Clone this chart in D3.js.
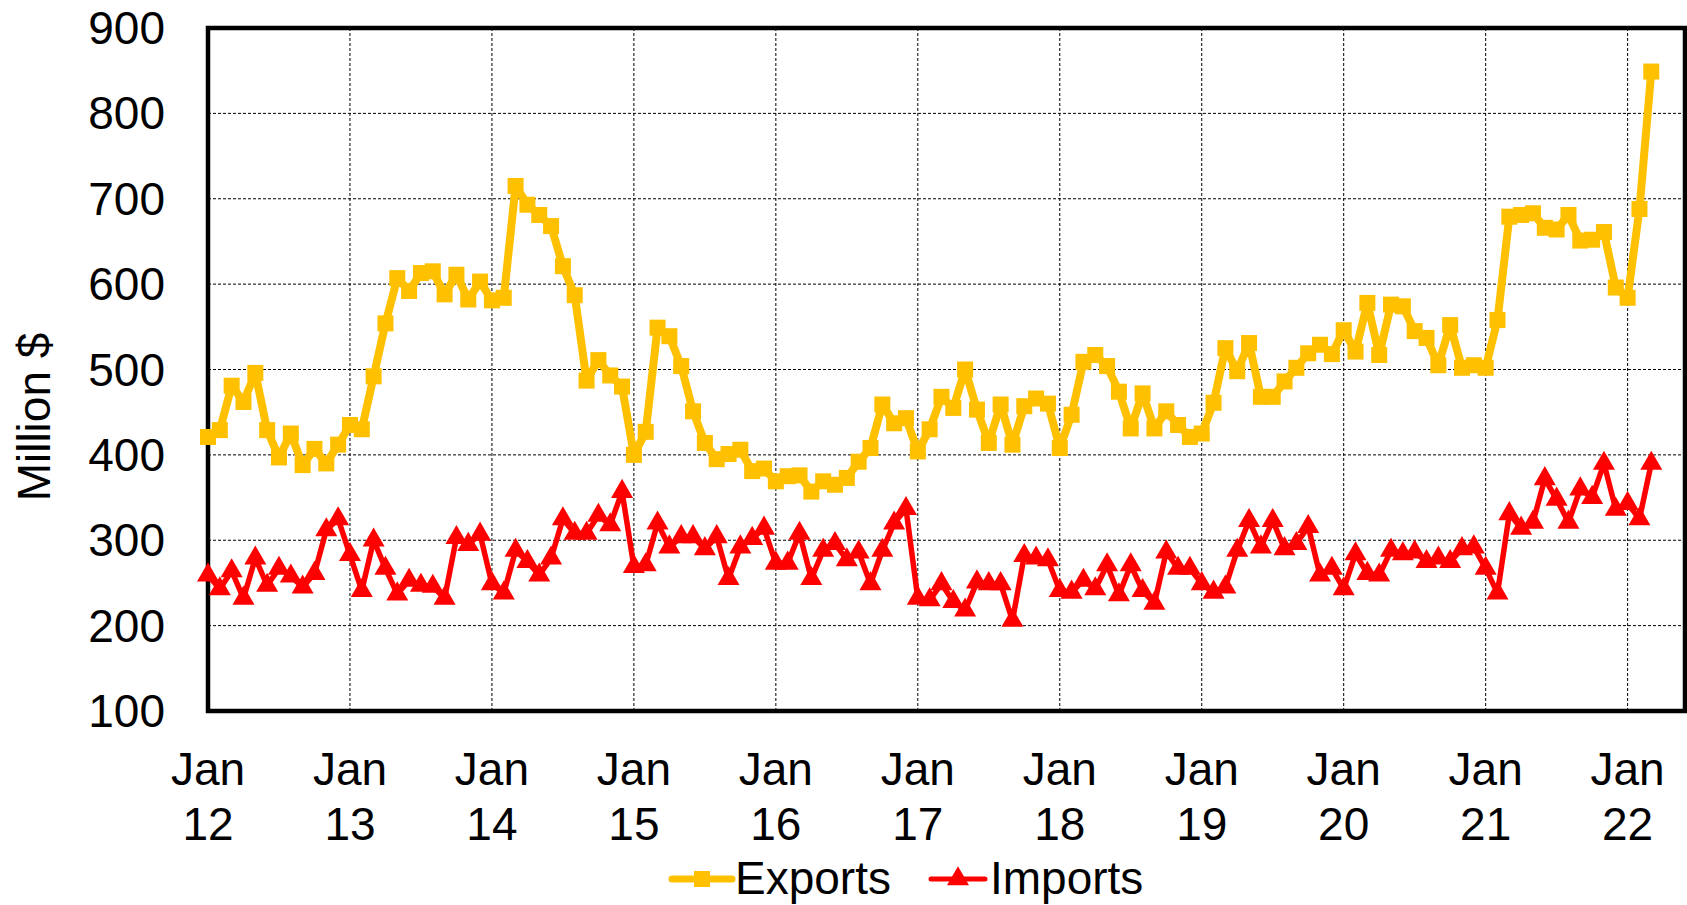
<!DOCTYPE html>
<html>
<head>
<meta charset="utf-8">
<script src="https://cdn.jsdelivr.net/npm/d3@7"></script>
<style>
  html, body { margin: 0; padding: 0; background: #fff; }
  svg { display: block; }
  text { font-family: Arial, "Liberation Sans", sans-serif; fill: #000; }
</style>
</head>
<body>
<svg id="chart" width="1687" height="905"></svg>
<script>
// ---- data (monthly, Jan 2012 .. Mar 2022) ----
const seriesNames = ["Exports", "Imports"];
const seriesColors = ["#FFC000", "#FF0000"];
const yearLabels = ["12","13","14","15","16","17","18","19","20","21","22"];
const yTicks = [100, 200, 300, 400, 500, 600, 700, 800, 900];

const exportsData = [
  421, 429, 481, 462, 496, 429, 397, 425, 388, 407, 390, 412,
  435, 430, 492, 554, 607, 592, 613, 615, 588, 611, 582, 603,
  581, 584, 715, 693, 681, 668, 621, 587, 487, 511, 493, 480,
  400, 427, 549, 539, 504, 451, 414, 395, 401, 406, 381, 384,
  369, 375, 376, 357, 369, 365, 373, 392, 408, 459, 437, 443,
  404, 430, 468, 455, 500, 453, 414, 459, 412, 457, 466, 460,
  408, 447, 509, 517, 504, 474, 431, 472, 431, 451, 435, 421,
  425, 461, 525, 498, 531, 468, 468, 486, 502, 519, 529, 518,
  546, 521, 578, 517, 576, 574, 545, 537, 505, 552, 502, 505,
  502, 558, 679, 681, 683, 666, 664, 681, 651, 652, 661, 596,
  584, 688, 849
];
const importsData = [
  259, 243, 264, 232, 279, 247, 267, 258, 245, 261, 312, 325,
  283, 241, 300, 267, 237, 253, 247, 246, 232, 303, 295, 307,
  249, 238, 288, 275, 259, 279, 325, 308, 308, 329, 318, 357,
  269, 271, 320, 292, 304, 304, 290, 304, 255, 292, 302, 314,
  273, 273, 308, 255, 288, 296, 277, 286, 249, 288, 320, 337,
  232, 230, 249, 228, 218, 251, 249, 249, 206, 282, 279, 277,
  241, 239, 253, 243, 271, 236, 271, 241, 226, 286, 267, 267,
  249, 239, 245, 288, 323, 292, 323, 290, 296, 316, 259, 267,
  243, 284, 261, 259, 288, 284, 286, 275, 279, 275, 290, 292,
  267, 238, 331, 314, 321, 372, 348, 321, 360, 350, 390, 336,
  343, 325, 390
];

// ---- layout ----
const plot = { left: 208, top: 28, right: 1685, bottom: 711 };

const svg = d3.select("#chart");

const x = d3.scaleLinear().domain([0, 124.85]).range([plot.left, plot.right]);
const y = d3.scaleLinear().domain([100, 900]).range([plot.bottom, plot.top]);

// gridlines
const grid = svg.append("g");
grid.selectAll("line.h").data(yTicks.slice(1)).enter().append("line")
  .attr("x1", plot.left).attr("x2", plot.right)
  .attr("y1", d => y(d)).attr("y2", d => y(d))
  .attr("stroke", "#000").attr("stroke-width", 1).attr("stroke-dasharray", "3,2");
grid.selectAll("line.v").data(yearLabels.slice(1)).enter().append("line")
  .attr("x1", (d, i) => x((i + 1) * 12)).attr("x2", (d, i) => x((i + 1) * 12))
  .attr("y1", plot.top).attr("y2", plot.bottom)
  .attr("stroke", "#000").attr("stroke-width", 1).attr("stroke-dasharray", "3,2");

// frame
svg.append("rect")
  .attr("x", plot.left).attr("y", plot.top)
  .attr("width", plot.right - plot.left).attr("height", plot.bottom - plot.top)
  .attr("fill", "none").attr("stroke", "#000").attr("stroke-width", 4.5);

// y tick labels
svg.append("g").selectAll("text").data(yTicks).enter().append("text")
  .attr("x", 165).attr("y", d => y(d)).attr("dy", "0.35em")
  .attr("text-anchor", "end").attr("font-size", 46)
  .text(d => d);

// x tick labels
const xl = svg.append("g").selectAll("text").data(yearLabels).enter().append("text")
  .attr("text-anchor", "middle").attr("font-size", 46);
xl.append("tspan").attr("x", (d, i) => x(i * 12)).attr("y", 785).text("Jan");
xl.append("tspan").attr("x", (d, i) => x(i * 12)).attr("y", 840).text(d => d);

// y axis title
svg.append("text")
  .attr("transform", "translate(50,417) rotate(-90)")
  .attr("text-anchor", "middle").attr("font-size", 46)
  .text("Million $");

// series
const line = d3.line().x((d, i) => x(i)).y(d => y(d));

// exports
svg.append("path").datum(exportsData)
  .attr("d", line).attr("fill", "none")
  .attr("stroke", seriesColors[0]).attr("stroke-width", 8).attr("stroke-linejoin", "round");
const sq = 16;
svg.append("g").selectAll("rect").data(exportsData).enter().append("rect")
  .attr("x", (d, i) => x(i) - sq / 2).attr("y", d => y(d) - sq / 2)
  .attr("width", sq).attr("height", sq).attr("fill", seriesColors[0]);

// imports
svg.append("path").datum(importsData)
  .attr("d", line).attr("fill", "none")
  .attr("stroke", seriesColors[1]).attr("stroke-width", 5.5).attr("stroke-linejoin", "round");
const tri = d3.symbol().type(d3.symbolTriangle).size(210);
svg.append("g").selectAll("path").data(importsData).enter().append("path")
  .attr("d", tri)
  .attr("transform", (d, i) => `translate(${x(i)},${y(d)})`)
  .attr("fill", seriesColors[1]);

// legend
const lg = svg.append("g");
const ly = 879;
lg.append("line").attr("x1", 672).attr("x2", 732).attr("y1", ly).attr("y2", ly)
  .attr("stroke", seriesColors[0]).attr("stroke-width", 7).attr("stroke-linecap", "round");
lg.append("rect").attr("x", 702 - sq / 2).attr("y", ly - sq / 2).attr("width", sq).attr("height", sq)
  .attr("fill", seriesColors[0]);
lg.append("text").attr("x", 735).attr("y", 894).attr("font-size", 46).text(seriesNames[0]);

lg.append("line").attr("x1", 931).attr("x2", 985).attr("y1", ly).attr("y2", ly)
  .attr("stroke", seriesColors[1]).attr("stroke-width", 5).attr("stroke-linecap", "round");
lg.append("path").attr("d", tri).attr("transform", `translate(958,${ly})`).attr("fill", seriesColors[1]);
lg.append("text").attr("x", 990).attr("y", 894).attr("font-size", 46).text(seriesNames[1]);
</script>
</body>
</html>
